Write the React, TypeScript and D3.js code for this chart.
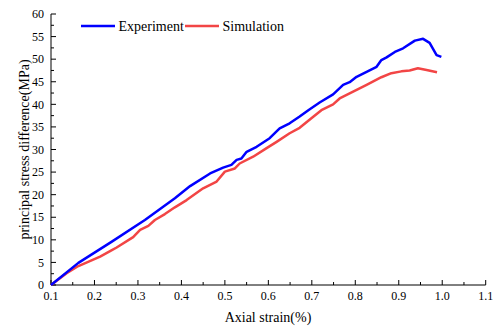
import { useRef, useEffect } from 'react';
import * as d3 from 'd3';

const expStrain = [0.1, 0.163, 0.24, 0.316, 0.385, 0.42, 0.466, 0.496, 0.515, 0.527, 0.538, 0.55, 0.573, 0.603, 0.626, 0.649, 0.672, 0.692, 0.718, 0.749, 0.772, 0.787, 0.803, 0.826, 0.849, 0.86, 0.872, 0.891, 0.91, 0.937, 0.956, 0.971, 0.987, 0.998];
const expStress = [0, 4.9, 9.6, 14.4, 19.2, 21.9, 24.7, 26.0, 26.6, 27.7, 28.0, 29.5, 30.6, 32.5, 34.7, 35.8, 37.3, 38.7, 40.4, 42.2, 44.3, 44.9, 46.1, 47.2, 48.3, 49.8, 50.4, 51.6, 52.4, 54.1, 54.5, 53.6, 50.9, 50.5];

const simStrain = [0.1, 0.136, 0.163, 0.213, 0.24, 0.251, 0.289, 0.305, 0.324, 0.339, 0.362, 0.385, 0.412, 0.45, 0.481, 0.5, 0.523, 0.534, 0.565, 0.596, 0.619, 0.649, 0.672, 0.699, 0.722, 0.749, 0.764, 0.795, 0.826, 0.86, 0.883, 0.906, 0.925, 0.944, 0.964, 0.988];
const simStress = [0, 2.6, 4.2, 6.3, 7.7, 8.3, 10.6, 12.2, 13.1, 14.4, 15.7, 17.2, 18.8, 21.4, 22.9, 25.1, 25.8, 26.9, 28.4, 30.3, 31.7, 33.6, 34.8, 36.9, 38.7, 40.0, 41.3, 42.8, 44.3, 46.0, 46.9, 47.3, 47.5, 48.0, 47.6, 47.1];

const xTicks = [0.1, 0.2, 0.3, 0.4, 0.5, 0.6, 0.7, 0.8, 0.9, 1.0, 1.1];
const yTicks = [0, 5, 10, 15, 20, 25, 30, 35, 40, 45, 50, 55, 60];

const seriesNames = ['Experiment', 'Simulation'];
const seriesColors = ['#0000ff', '#f24545'];

export default function App() {
  const svgRef = useRef<SVGSVGElement>(null);
  const width = 496;
  const height = 329;

  useEffect(() => {
    document.body.style.margin = '0';
    if (!svgRef.current) return;
    const svg = d3.select(svgRef.current);
    svg.selectAll('*').remove();

    const margin = { top: 14, right: 10, bottom: 44, left: 51 };
    const x = d3.scaleLinear().domain([0.1, 1.1]).range([margin.left, 485.7]);
    const y = d3.scaleLinear().domain([0, 60]).range([height - margin.bottom, margin.top]);
    const font = '"Liberation Serif", "Times New Roman", serif';

    // x axis with inward ticks
    const xAxis = svg.append('g').attr('transform', `translate(0,${y(0)})`);
    xAxis.append('line').attr('x1', x(0.1)).attr('x2', x(1.1)).attr('stroke', '#000').attr('stroke-width', 1);
    const xMinor = d3.range(0.15, 1.1, 0.1);
    xAxis.selectAll('line.maj').data(xTicks).join('line')
      .attr('class', 'maj')
      .attr('x1', (d) => x(d)).attr('x2', (d) => x(d))
      .attr('y1', 0).attr('y2', -5)
      .attr('stroke', '#000');
    xAxis.selectAll('line.min').data(xMinor).join('line')
      .attr('class', 'min')
      .attr('x1', (d) => x(d)).attr('x2', (d) => x(d))
      .attr('y1', 0).attr('y2', -3)
      .attr('stroke', '#000');
    xAxis.selectAll('text').data(xTicks).join('text')
      .attr('x', (d) => x(d)).attr('y', 15)
      .attr('text-anchor', 'middle')
      .attr('font-family', font).attr('font-size', 12)
      .text((d) => d.toFixed(1));

    // y axis with inward ticks
    const yAxis = svg.append('g').attr('transform', `translate(${x(0.1)},0)`);
    yAxis.append('line').attr('y1', y(0)).attr('y2', y(60)).attr('stroke', '#000');
    const yMinor = d3.range(2.5, 60, 5);
    yAxis.selectAll('line.maj').data(yTicks).join('line')
      .attr('class', 'maj')
      .attr('y1', (d) => y(d)).attr('y2', (d) => y(d))
      .attr('x1', 0).attr('x2', 5)
      .attr('stroke', '#000');
    yAxis.selectAll('line.min').data(yMinor).join('line')
      .attr('class', 'min')
      .attr('y1', (d) => y(d)).attr('y2', (d) => y(d))
      .attr('x1', 0).attr('x2', 3)
      .attr('stroke', '#000');
    yAxis.selectAll('text').data(yTicks).join('text')
      .attr('x', -7).attr('y', (d) => y(d))
      .attr('dy', '0.35em')
      .attr('text-anchor', 'end')
      .attr('font-family', font).attr('font-size', 12)
      .text((d) => d);

    // axis titles
    svg.append('text')
      .attr('x', 268).attr('y', 322)
      .attr('text-anchor', 'middle')
      .attr('font-family', font).attr('font-size', 14)
      .text('Axial strain(%)');
    svg.append('text')
      .attr('transform', `translate(29,${(y(0) + y(60)) / 2}) rotate(-90)`)
      .attr('text-anchor', 'middle')
      .attr('font-family', font).attr('font-size', 14)
      .text('principal stress difference(MPa)');

    // lines
    const line = d3.line<[number, number]>()
      .x((d) => x(d[0]))
      .y((d) => y(d[1]));
    const series: [number, number][][] = [
      expStrain.map((s, i) => [s, expStress[i]]),
      simStrain.map((s, i) => [s, simStress[i]]),
    ];
    // draw simulation first so experiment sits on top
    [1, 0].forEach((k) => {
      svg.append('path')
        .datum(series[k])
        .attr('d', line)
        .attr('fill', 'none')
        .attr('stroke', seriesColors[k])
        .attr('stroke-width', 2.5)
        .attr('stroke-linejoin', 'round');
    });

    // legend
    const legendX = [81, 185];
    seriesNames.forEach((name, i) => {
      const g = svg.append('g').attr('transform', `translate(${legendX[i]},26)`);
      g.append('line').attr('x1', 0).attr('x2', 34)
        .attr('stroke', seriesColors[i]).attr('stroke-width', 2.5);
      g.append('text').attr('x', 37.5).attr('y', 0).attr('dy', '0.35em')
        .attr('font-family', font).attr('font-size', 14)
        .text(name);
    });
  }, []);

  return <svg ref={svgRef} width={width} height={height} style={{ display: 'block' }} />;
}
